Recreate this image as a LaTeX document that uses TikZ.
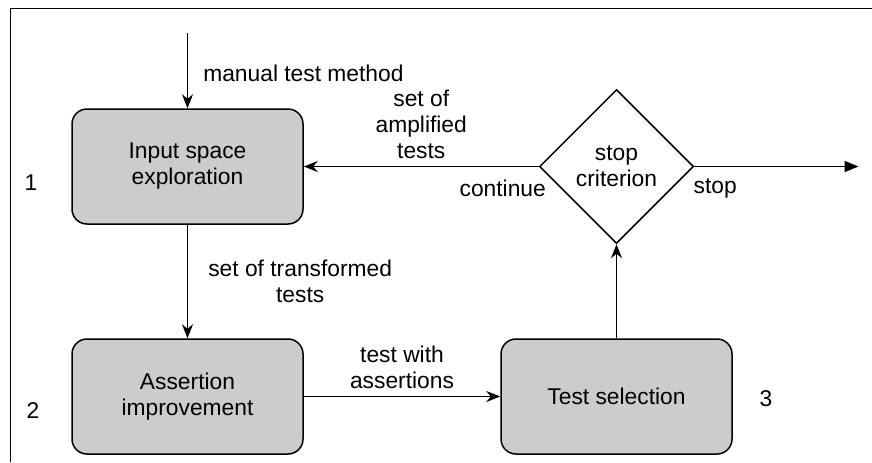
\documentclass[tikz,border=0pt]{standalone}
\usepackage{fontspec}
\setmainfont{Liberation Sans}
\usepackage{xcolor}
\usepackage{tikz}
\usetikzlibrary{positioning, shapes.geometric, arrows.meta}
\definecolor{boxgray}{gray}{0.8}

\begin{document}
\begin{tikzpicture}[node distance=115pt, auto,
        font=\fontsize{11.4}{13}\selectfont,
        box/.style={draw, line width=0.75pt, fill=boxgray, rounded corners=7.5pt,
            minimum width=115.5pt, minimum height=57.5pt, align=center},
        decision/.style={draw, line width=0.75pt, diamond, aspect=1,
            minimum size=77pt, inner sep=0pt, align=center},
        flow/.style={-{Stealth[length=7pt, width=5.5pt]}, line width=0.75pt}]
        \useasboundingbox (0,0) rectangle (436pt,-231pt);
        \draw[line width=0.5pt] (436pt,-4pt) -- (5pt,-4pt) -- (5pt,-231pt);

        \node[box] (expl) at (93.75pt,-83.25pt) {Input space\\exploration};
        \node[box] (assert) [below of=expl] {Assertion\\improvement};
        \node[box] (select) [right of=assert, node distance=214.5pt] {Test selection};
        \node[decision] (crit) [above of=select] {stop\\criterion};

        \coordinate (start) at ([yshift=66.75pt]expl.center);
        \coordinate (end) at ([xshift=121pt]crit.center);

        \node (one) [left of=expl, node distance=78.25pt, yshift=-8.25pt] {1};
        \node (two) [left of=assert, node distance=77.25pt, yshift=-7.25pt] {2};
        \node (three) [right of=select, node distance=74.75pt, yshift=-1.25pt] {3};

        \node (cont) at ([xshift=-18pt, yshift=-11pt]crit.west) {continue};
        \node (halt) at ([xshift=10.5pt, yshift=-11pt]crit.east) {stop};

        \draw[flow] (start) -- node (lman) [right, pos=0.54, xshift=4.2pt] {manual test method} (expl);
        \draw[flow] (expl) -- node (ltrans) [right, align=center, xshift=6.7pt] {set of transformed\\tests} (assert);
        \draw[flow] (assert) -- node (lwith) [above, align=center] {test with\\assertions} (select);
        \draw[flow] (select) -- (crit);
        \draw[flow] (crit) -- node (lampl) [above, align=center] {set of\\amplified\\tests} (expl);
        \draw[-{Triangle[length=7pt, width=5.5pt]}, line width=0.75pt] (crit) -- (end);
    \end{tikzpicture}
\end{document}
